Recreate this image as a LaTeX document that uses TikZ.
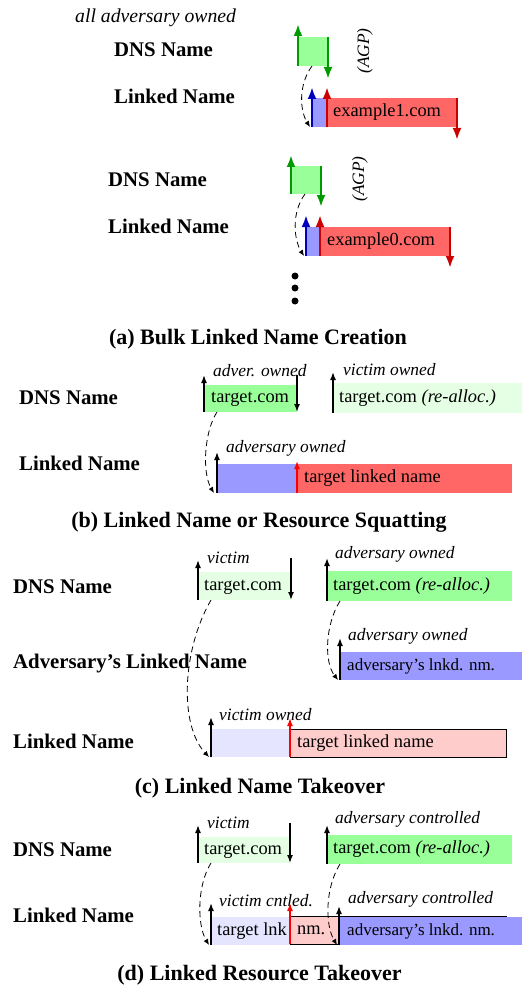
\documentclass[tikz,border=0pt]{standalone}
\usepackage{fontspec}
\setmainfont{Liberation Serif}
\usetikzlibrary{arrows.meta,positioning}
\colorlet{gfill}{green!40}
\colorlet{lgfill}{green!10}
\colorlet{bfill}{blue!40}
\colorlet{lbfill}{blue!10}
\colorlet{rfill}{red!60}
\colorlet{lrfill}{red!20}
\colorlet{garr}{green!60!black}
\colorlet{barr}{blue!75!black}
\colorlet{rarr}{red!80!black}
\tikzstyle{bar}=[rectangle,inner sep=0pt,outer sep=0pt,anchor=north west,minimum height=29pt]
\tikzstyle{boxtext}=[inner sep=0pt,text height=13pt,text depth=4.5pt,font=\fontsize{18.4}{21}\selectfont]
\tikzstyle{tag}=[inner sep=0pt,anchor=base west,font=\fontsize{17.4}{20}\selectfont\itshape]
\tikzstyle{row}=[inner sep=0pt,anchor=base west,font=\fontsize{20.8}{24}\selectfont\bfseries]
\tikzstyle{caption}=[inner sep=0pt,anchor=base,font=\fontsize{22}{24}\selectfont\bfseries]
\tikzstyle{garrow}=[-{Latex[length=12pt,width=9pt]},line width=2.8pt,draw=garr,fill=garr]
\tikzstyle{barrow}=[-{Latex[length=12pt,width=9pt]},line width=2.8pt,draw=barr,fill=barr]
\tikzstyle{rarrow}=[-{Latex[length=12pt,width=9pt]},line width=2.8pt,draw=rarr,fill=rarr]
\tikzstyle{karrow}=[-{Latex[length=8pt,width=6pt]},line width=1.5pt,draw=black]
\tikzstyle{redarrow}=[-{Latex[length=8pt,width=6pt]},line width=1.5pt,draw=red]
\tikzstyle{link}=[-{Latex[length=6pt,width=5pt]},dashed,dash pattern=on 6pt off 4pt,line width=0.8pt]
\begin{document}
\begin{tikzpicture}[x=1pt,y=-1pt,node distance=0pt]
			\useasboundingbox (0,0) rectangle (522,987);

			% (a) bulk creation, first name
			\node[tag,font=\fontsize{19.7}{22}\selectfont\itshape] (allown) at (75,23) {all adversary owned};
			\node[row] (dnsAl1) at (114,57) {DNS Name};
			\node[row] (lnkAl1) at (114,104) {Linked Name};
			\node[bar,fill=gfill,minimum width=30pt] (dnsA1) at (298,37) {};
			\node[bar,fill=bfill,minimum width=15pt] (lnkA1) at (312,98) {};
			\node[bar,fill=rfill,minimum width=130pt,right=0pt of lnkA1] (redA1) {};
			\node[boxtext,right=6pt of redA1.west] (txtA1) {example1.com};
			\node[tag,rotate=90,anchor=center] (agpA1) at (365,51) {(AGP)};

			\draw[garrow] (dnsA1.south west) -- ++(0,-42);
			\draw[garrow] (dnsA1.north east) -- ++(0,42);
			\draw[barrow] (lnkA1.south west) -- ++(0,-40);
			\draw[rarrow] (redA1.south west) -- ++(0,-40);
			\draw[rarrow] (redA1.north east) -- ++(0,42);
			\draw[link] ([xshift=14pt]dnsA1.south west) .. controls +(-14,19) and +(-10,-16) .. ([xshift=-2pt]lnkA1.south west);

			% (a) second name
			\node[row] (dnsAl2) at (108,186) {DNS Name};
			\node[row] (lnkAl2) at (108,233) {Linked Name};
			\node[bar,fill=gfill,minimum width=30pt,minimum height=28pt] (dnsA2) at (291,166) {};
			\node[bar,fill=bfill,minimum width=14pt] (lnkA2) at (306,227) {};
			\node[bar,fill=rfill,minimum width=130pt,right=0pt of lnkA2] (redA2) {};
			\node[boxtext,right=7pt of redA2.west] (txtA2) {example0.com};
			\node[tag,rotate=90,anchor=center] (agpA2) at (360,179) {(AGP)};

			\draw[garrow] (dnsA2.south west) -- ++(0,-39);
			\draw[garrow] (dnsA2.north east) -- ++(0,41);
			\draw[barrow] (lnkA2.south west) -- ++(0,-41);
			\draw[rarrow] (redA2.south west) -- ++(0,-41);
			\draw[rarrow] (redA2.north east) -- ++(0,41);
			\draw[link] ([xshift=14pt]dnsA2.south west) .. controls +(-14,19) and +(-10,-16) .. ([xshift=-2pt]lnkA2.south west);

			\foreach \y in {276,288,301}
				\fill (295,\y) circle (3.5pt);
			\node[caption] (capA) at (258,344) {(a) Bulk Linked Name Creation};

			% (b) squatting
			\node[row] (dnsBl) at (19,404) {DNS Name};
			\node[row] (lnkBl) at (19,470) {Linked Name};
			\node[bar,fill=gfill,minimum width=93pt,minimum height=27pt] (dnsB1) at (204,385) {};
			\node[boxtext,right=7pt of dnsB1.west] (txtB1) {target.com};
			\node[bar,fill=lgfill,minimum width=189pt,minimum height=30pt] (dnsB2) at (333,383) {};
			\node[boxtext,right=6pt of dnsB2.west] (txtB2) {target.com \textit{(re-alloc.)}};
			\node[bar,fill=bfill,minimum width=80pt] (lnkB1) at (217,464) {};
			\node[bar,fill=rfill,minimum width=215pt,right=0pt of lnkB1] (lnkB2) {};
			\node[boxtext,right=7pt of lnkB2.west] (txtB3) {target linked name};
			\node[tag] (tagB1) at (213,376) {adver. owned};
			\node[tag] (tagB2) at (343,375) {victim owned};
			\node[tag] (tagB3) at (226,452) {adversary owned};

			\draw[karrow] (dnsB1.south west) -- ++(0,-37);
			\draw[karrow] (dnsB1.north east) ++(0,-10) -- (dnsB1.south east);
			\draw[karrow] (dnsB2.south west) -- ++(0,-41);
			\draw[karrow] (lnkB1.south west) -- ++(0,-41);
			\draw[redarrow] (lnkB2.south west) -- ++(0,-32);
			\draw[link] ([xshift=13pt]dnsB1.south west) .. controls +(-13,20) and +(-12,-20) .. ([xshift=-3pt]lnkB1.south west);
			\node[caption] (capB) at (259,527) {(b) Linked Name or Resource Squatting};

			% (c) linked name takeover
			\node[row] (dnsCl) at (13,593) {DNS Name};
			\node[row] (advCl) at (13,668) {Adversary’s Linked Name};
			\node[row] (lnkCl) at (13,748) {Linked Name};
			\node[bar,fill=lgfill,minimum width=93pt,minimum height=28pt] (dnsC1) at (198,572) {};
			\node[boxtext,right=6pt of dnsC1.west] (txtC1) {target.com};
			\node[bar,fill=gfill,minimum width=185pt,minimum height=30pt] (dnsC2) at (327,571) {};
			\node[boxtext,right=6pt of dnsC2.west] (txtC2) {target.com \textit{(re-alloc.)}};
			\node[bar,fill=bfill,minimum width=182pt,minimum height=28pt] (advC1) at (340,652) {};
			\node[boxtext,font=\fontsize{17}{20}\selectfont,right=7pt of advC1.west] (txtC3) {adversary’s lnkd. nm.};
			\node[bar,fill=lbfill,minimum width=79pt,minimum height=28pt] (lnkC1) at (211,729) {};
			\node[bar,fill=lrfill,draw=black,line width=0.8pt,minimum width=216pt,minimum height=28pt,right=0pt of lnkC1] (lnkC2) {};
			\node[boxtext,right=7pt of lnkC2.west] (txtC4) {target linked name};
			\node[tag] (tagC1) at (207,563) {victim};
			\node[tag] (tagC2) at (335,558) {adversary owned};
			\node[tag] (tagC3) at (348,640) {adversary owned};
			\node[tag] (tagC4) at (219,720) {victim owned};

			\draw[karrow] (dnsC1.south west) -- ++(0,-40);
			\draw[karrow] (dnsC1.north east) ++(0,-14) -- (dnsC1.south east);
			\draw[karrow] (dnsC2.south west) -- ++(0,-43);
			\draw[karrow] (advC1.south west) -- ++(0,-42);
			\draw[karrow] (lnkC1.south west) -- ++(0,-40);
			\draw[redarrow] (lnkC2.south west) -- ++(0,-39);
			\draw[link] ([xshift=13pt]dnsC1.south west) .. controls +(-29,50) and +(-30,-32) .. ([xshift=-2pt]lnkC1.south west);
			\draw[link] ([xshift=13pt]dnsC2.south west) .. controls +(-15,24) and +(-14,-18) .. ([xshift=-2pt]advC1.south west);
			\node[caption] (capC) at (260,793) {(c) Linked Name Takeover};

			% (d) linked resource takeover
			\node[row] (dnsDl) at (13,856) {DNS Name};
			\node[row] (lnkDl) at (13,922) {Linked Name};
			\node[bar,fill=lgfill,minimum width=92pt,minimum height=26pt] (dnsD1) at (198,837) {};
			\node[boxtext,right=6pt of dnsD1.west] (txtD1) {target.com};
			\node[bar,fill=gfill,minimum width=185pt] (dnsD2) at (327,835) {};
			\node[boxtext,right=6pt of dnsD2.west] (txtD2) {target.com \textit{(re-alloc.)}};
			\node[bar,fill=lbfill,minimum width=79pt,minimum height=28pt] (lnkD1) at (211,917) {};
			\node[boxtext,right=6pt of lnkD1.west] (txtD3) {target lnk};
			\node[bar,fill=lrfill,draw=black,line width=0.8pt,minimum width=216pt,minimum height=28pt] (lnkD2) at (290,916) {};
			\node[boxtext,right=7pt of lnkD2.west] (txtD4) {nm.};
			\node[bar,fill=bfill,minimum width=183pt,minimum height=28pt] (lnkD3) at (339,917) {};
			\node[boxtext,font=\fontsize{17}{20}\selectfont,right=8pt of lnkD3.west] (txtD5) {adversary’s lnkd. nm.};
			\node[tag] (tagD1) at (207,828) {victim};
			\node[tag] (tagD2) at (335,823) {adversary controlled};
			\node[tag] (tagD3) at (219,906) {victim cntled.};
			\node[tag] (tagD4) at (348,903) {adversary controlled};

			\draw[karrow] (dnsD1.south west) -- ++(0,-38);
			\draw[karrow] (dnsD1.north east) ++(0,-14) -- (dnsD1.south east);
			\draw[karrow] (dnsD2.south west) -- ++(0,-39);
			\draw[karrow] (lnkD1.south west) -- ++(0,-42);
			\draw[redarrow] (lnkD2.south west) -- ++(0,-41);
			\draw[karrow] (lnkD3.south west) -- ++(0,-39);
			\draw[link] ([xshift=13pt]dnsD1.south west) .. controls +(-14,22) and +(-12,-20) .. ([xshift=-2pt]lnkD1.south west);
			\draw[link] ([xshift=13pt]dnsD2.south west) .. controls +(-15,24) and +(-12,-20) .. ([xshift=-2pt]lnkD3.south west);
			\node[caption] (capD) at (259.5,980) {(d) Linked Resource Takeover};
\end{tikzpicture}
\end{document}
